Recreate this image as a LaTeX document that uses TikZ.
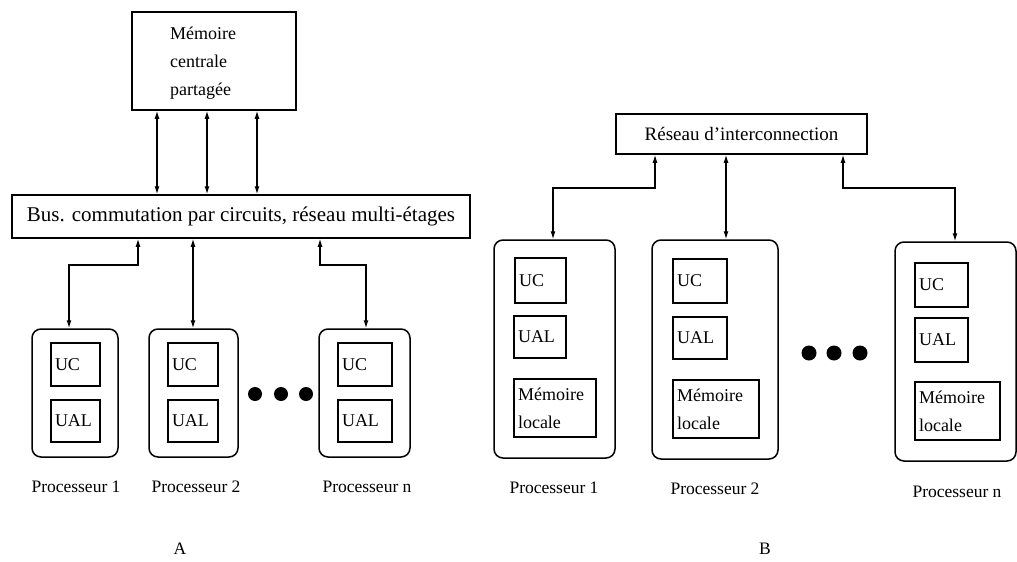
\documentclass[tikz,border=0pt]{standalone}
\usepackage{fontspec}
\setmainfont{Liberation Serif}
\usetikzlibrary{arrows.meta}
\begin{document}
\begin{tikzpicture}[x=1pt,y=-1pt,
  box/.style={draw, line width=1.5pt, inner sep=0pt},
  proc/.style={draw, line width=1.5pt, rounded corners=9pt, inner sep=0pt},
  unit/.style 2 args={draw, line width=1.4pt, inner xsep=4pt, inner ysep=0pt,
    text width=#1, minimum height=#2, align=left,
    font=\fontsize{18}{28}\selectfont},
  link/.style={line width=1.2pt, {Latex[length=8pt,width=5pt]}-{Latex[length=8pt,width=5pt]}},
  lbl/.style={font=\fontsize{17.5}{20}\selectfont, inner sep=0pt},
  dot/.style={circle, fill, inner sep=0pt, minimum size=14pt},
]
\useasboundingbox (0,0) rectangle (1017,562);

% ---------- A: shared central memory ----------
\node[box, minimum width=164pt, minimum height=98pt] (mem) at (214,61) {};
\node[anchor=west, align=left, inner sep=0pt, font=\fontsize{18}{28}\selectfont]
  (memtxt) at (170,63) {Mémoire\\centrale\\partagée};

\node[box, minimum width=458pt, minimum height=43pt, font=\fontsize{21}{24}\selectfont]
  (bus) at (241,216.5) {Bus. commutation par circuits, réseau multi-étages};

% processors of A
\node[proc, minimum width=86pt, minimum height=128pt] (pa1) at (75,393) {};
\node[proc, minimum width=89pt, minimum height=128pt] (pa2) at (193.5,393) {};
\node[proc, minimum width=91pt, minimum height=128pt] (pa3) at (364.5,393) {};

\node[unit={41pt}{43pt}] (uca1) at (75.5,364.5) {UC};
\node[unit={41pt}{42pt}] (uaa1) at (75.5,421) {UAL};
\node[unit={42pt}{43pt}] (uca2) at (193,364.5) {UC};
\node[unit={42pt}{42pt}] (uaa2) at (193,421) {UAL};
\node[unit={46pt}{43pt}] (uca3) at (365,364.5) {UC};
\node[unit={46pt}{42pt}] (uaa3) at (365,421) {UAL};

\node[dot] (da1) at (255,394) {};
\node[dot] (da2) at (281,394) {};
\node[dot] (da3) at (306,394) {};

\node[lbl] (la1) at (76,487) {Processeur 1};
\node[lbl] (la2) at (196,487) {Processeur 2};
\node[lbl] (la3) at (367,487) {Processeur n};
\node[lbl] (capA) at (180,549) {A};

% links of A
\coordinate (ma) at (157,0);
\coordinate (mb) at (207,0);
\coordinate (mc) at (257,0);
\draw[link] (ma |- mem.south) -- (ma |- bus.north);
\draw[link] (mb |- mem.south) -- (mb |- bus.north);
\draw[link] (mc |- mem.south) -- (mc |- bus.north);

\coordinate (ba) at (138,265);
\coordinate (bb) at (193,0);
\coordinate (bc) at (320,265);
\coordinate (ta) at (69,0);
\coordinate (tc) at (366,0);
\draw[link] (ba |- bus.south) -- (ba) -| (ta |- pa1.north);
\draw[link] (bb |- bus.south) -- (bb |- pa2.north);
\draw[link] (bc |- bus.south) -- (bc) -| (tc |- pa3.north);

% ---------- B: distributed memory ----------
\node[box, minimum width=251pt, minimum height=40pt, font=\fontsize{19}{22}\selectfont]
  (res) at (741.5,134) {Réseau d'interconnection};

\node[proc, minimum width=121pt, minimum height=218pt] (pb1) at (554.5,349) {};
\node[proc, minimum width=126pt, minimum height=219pt] (pb2) at (715,349.5) {};
\node[proc, minimum width=121pt, minimum height=219pt] (pb3) at (955.5,351.5) {};

\node[unit={43pt}{45pt}] (ucb1) at (540.5,280.5) {UC};
\node[unit={44pt}{42pt}] (uab1) at (540,337) {UAL};
\node[unit={74pt}{58pt}] (mlb1) at (555,408) {Mémoire\\locale};

\node[unit={46pt}{44pt}] (ucb2) at (700,281) {UC};
\node[unit={46pt}{42pt}] (uab2) at (700,338) {UAL};
\node[unit={78pt}{58pt}] (mlb2) at (716,409) {Mémoire\\locale};

\node[unit={45pt}{44pt}] (ucb3) at (941.5,285) {UC};
\node[unit={45pt}{44pt}] (uab3) at (941.5,340) {UAL};
\node[unit={77pt}{58pt}] (mlb3) at (957.5,411) {Mémoire\\locale};

\node[dot, minimum size=15pt] (db1) at (809,353) {};
\node[dot, minimum size=15pt] (db2) at (834,353) {};
\node[dot, minimum size=15pt] (db3) at (860,353) {};

\node[lbl] (lb1) at (554,488) {Processeur 1};
\node[lbl] (lb2) at (715,489) {Processeur 2};
\node[lbl] (lb3) at (957,492) {Processeur n};
\node[lbl] (capB) at (765,549) {B};

% links of B
\coordinate (ra) at (655,188);
\coordinate (rb) at (726,0);
\coordinate (rc) at (843,188);
\coordinate (sa) at (553,0);
\coordinate (sc) at (955,0);
\draw[link] (ra |- res.south) -- (ra) -| (sa |- pb1.north);
\draw[link] (rb |- res.south) -- (rb |- pb2.north);
\draw[link] (rc |- res.south) -- (rc) -| (sc |- pb3.north);
\end{tikzpicture}
\end{document}
